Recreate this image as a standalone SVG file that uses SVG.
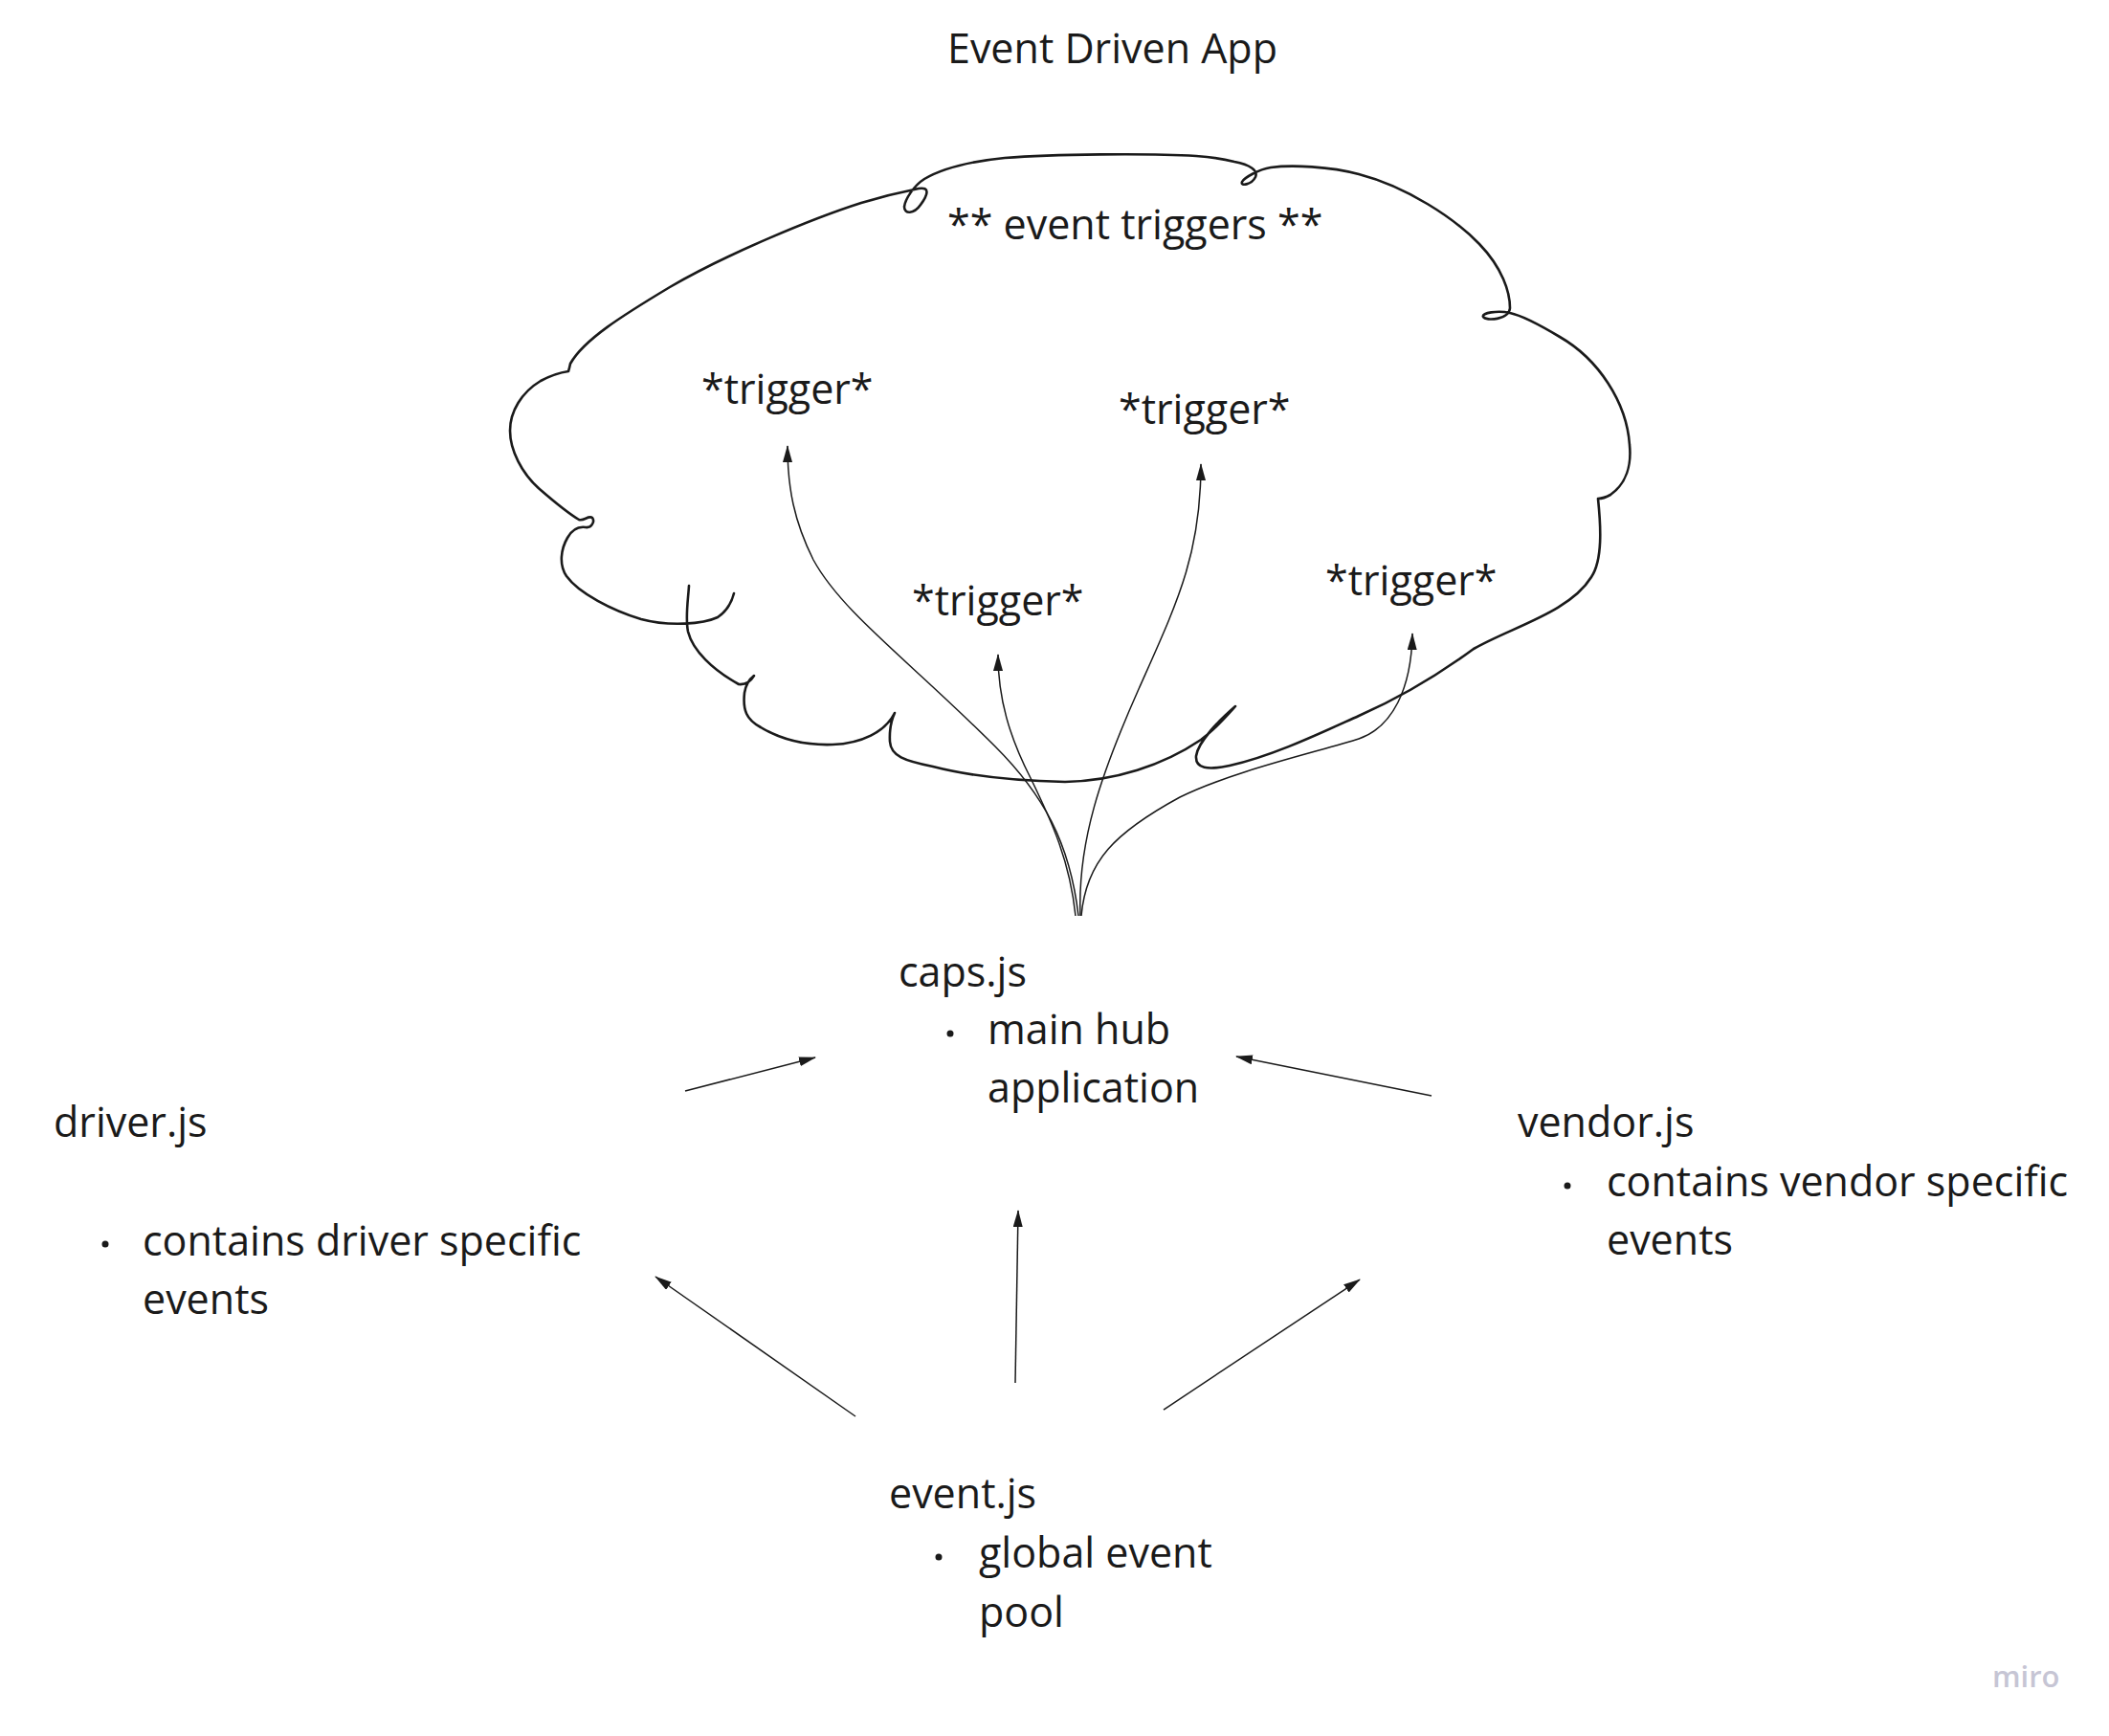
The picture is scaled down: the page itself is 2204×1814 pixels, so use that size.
<svg xmlns="http://www.w3.org/2000/svg" width="2204" height="1814" viewBox="0 0 2204 1814">
<style>
text{font-family:"Open Sans","Noto Sans","Liberation Sans",sans-serif;font-size:43px;fill:#1a1a1a}
.cloud{fill:none;stroke:#1a1a1a;stroke-width:2.6;stroke-linecap:round;stroke-linejoin:round}
.conn{fill:none;stroke:#1a1a1a;stroke-width:1.5}
.bul{fill:#1a1a1a}
.miro{fill:#c6c5d4;font-size:31px;font-weight:600}
</style>
<defs>
<marker id="ah" viewBox="0 0 18 10" markerWidth="18" markerHeight="10" refX="17" refY="5" orient="auto" markerUnits="userSpaceOnUse">
<path d="M0,0 L18,5 L0,10 Z" fill="#1a1a1a"/>
</marker>
</defs>
<rect width="2204" height="1814" fill="#ffffff"/>

<g id="title"><text x="990" y="66">Event Driven App</text></g>

<g id="cloud">
<path class="cloud" d="M 720 612 C 719 628, 716 645, 719 660 C 724 680, 745 700, 772 715 Q 782 716, 788 706 Q 780 712, 778 724 C 776 742, 780 752, 795 760 C 815 772, 840 779, 870 778 C 900 777, 925 765, 935 745 Q 929 758, 930 775 C 931 790, 945 795, 975 801 C 1010 810, 1060 816, 1113 817 C 1165 816, 1215 800, 1255 773 C 1270 762, 1282 748, 1291 738 C 1275 752, 1252 775, 1250 790 C 1249 803, 1262 805, 1285 800 C 1330 790, 1380 766, 1420 748 C 1470 726, 1510 700, 1540 678 C 1580 655, 1640 640, 1663 603 C 1675 585, 1673 550, 1670 521 Q 1676 521, 1683 517 C 1700 505, 1705 485, 1703 465 C 1700 420, 1670 375, 1630 352 C 1610 340, 1592 330, 1578 327 C 1565 324, 1548 327, 1550 331 C 1553 336, 1577 334, 1578 322 C 1578 305, 1570 280, 1546 255 C 1520 228, 1470 195, 1420 182 C 1390 174, 1350 172, 1328 175 C 1315 177, 1300 186, 1298 190 C 1296 195, 1308 193, 1312 185 C 1315 178, 1306 172, 1290 169 C 1278 166, 1265 164, 1250 163 C 1200 160, 1100 161, 1050 165 C 1010 169, 983 177, 966 187 C 955 194, 946 208, 945 216 C 945 224, 955 224, 962 214 C 970 203, 972 195, 960 197 C 945 200, 920 206, 900 212 C 850 228, 760 265, 700 300 C 650 330, 610 355, 596 380 Q 595 385, 594 388 Q 580 390, 565 398 C 545 410, 533 430, 533 450 C 533 470, 545 495, 565 512 C 580 525, 595 537, 605 543 C 610 545, 615 538, 619 541 C 622 545, 618 552, 612 551 C 605 550, 598 553, 593 562 C 586 574, 584 590, 592 602 C 605 620, 640 638, 670 647 C 700 655, 735 652, 750 645 C 760 638, 765 628, 767 620"/>
<text x="990" y="250">** event triggers **</text>
</g>

<g id="trigger1"><text x="733" y="422">*trigger*</text></g>
<g id="trigger2"><text x="1169" y="443">*trigger*</text></g>
<g id="trigger3"><text x="953" y="643">*trigger*</text></g>
<g id="trigger4"><text x="1385" y="622">*trigger*</text></g>

<g id="caps">
<text x="939" y="1031">caps.js</text>
<circle class="bul" cx="993" cy="1080" r="3.5"/>
<text x="1032" y="1091">main hub</text>
<text x="1032" y="1152">application</text>
</g>

<g id="driver">
<text x="56" y="1188">driver.js</text>
<circle class="bul" cx="110" cy="1300" r="3.5"/>
<text x="149" y="1312">contains driver specific</text>
<text x="149" y="1373">events</text>
</g>

<g id="vendor">
<text x="1586" y="1188">vendor.js</text>
<circle class="bul" cx="1638" cy="1239" r="3.5"/>
<text x="1679" y="1250">contains vendor specific</text>
<text x="1679" y="1311">events</text>
</g>

<g id="event">
<text x="929" y="1576">event.js</text>
<circle class="bul" cx="981" cy="1627" r="3.5"/>
<text x="1023" y="1638">global event</text>
<text x="1023" y="1700">pool</text>
</g>

<g id="watermark"><text class="miro" x="2082" y="1763">miro</text></g>

<g id="connectors">
<path class="conn" marker-end="url(#ah)" d="M 1127 957 C 1118 880, 1090 830, 1040 780 C 950 690, 880 640, 850 585 C 830 545, 823 510, 823 466"/>
<path class="conn" marker-end="url(#ah)" d="M 1129 957 C 1126 880, 1150 810, 1190 720 C 1230 630, 1255 580, 1255 485"/>
<path class="conn" marker-end="url(#ah)" d="M 1124 957 C 1118 900, 1100 860, 1077 813 C 1055 770, 1043 730, 1043 684"/>
<path class="conn" marker-end="url(#ah)" d="M 1130 957 C 1135 900, 1165 870, 1233 833 C 1290 805, 1380 785, 1420 772 C 1455 760, 1475 720, 1476 662"/>
<path class="conn" marker-end="url(#ah)" d="M 716 1140 L 852 1105"/>
<path class="conn" marker-end="url(#ah)" d="M 1496 1145 L 1292 1104"/>
<path class="conn" marker-end="url(#ah)" d="M 894 1480 L 685 1334"/>
<path class="conn" marker-end="url(#ah)" d="M 1061 1445 L 1064 1265"/>
<path class="conn" marker-end="url(#ah)" d="M 1216 1473 L 1421 1337"/>
</g>
</svg>
